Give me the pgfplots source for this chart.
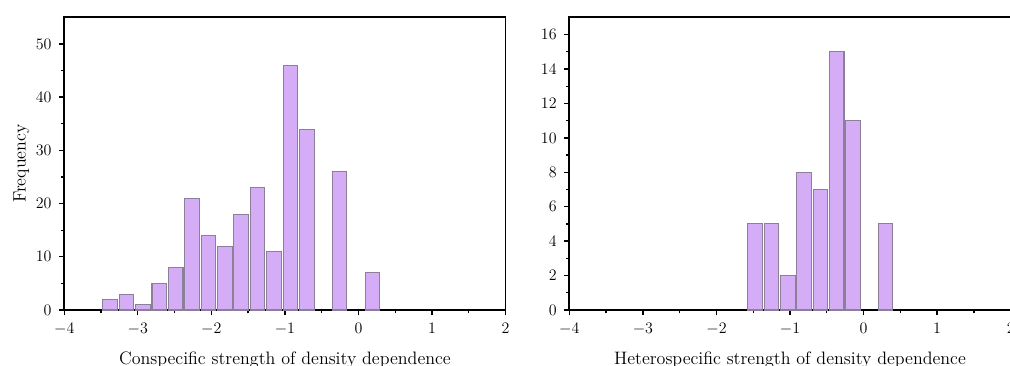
\documentclass[border=0pt]{standalone}
\usepackage{pgfplots}
\pgfplotsset{compat=1.18}
\definecolor{barfill}{RGB}{213,172,246}
\definecolor{baredge}{RGB}{140,128,152}
\pgfplotsset{
  histstyle/.style={
    scale only axis,
    width=331pt, height=219.5pt,
    xmin=-4, xmax=2,
    xtick={-4,-3,-2,-1,0,1,2},
    minor xtick={-3.5,-2.5,-1.5,-0.5,0.5,1.5},
    tick align=outside,
    xtick pos=lower, ytick pos=left,
    major tick length=4pt, minor tick length=2.6pt,
    every tick/.style={black, line width=1pt},
    axis line style={line width=1.3pt},
    tick label style={font=\fontsize{11.5}{13}\selectfont},
    xticklabel style={yshift=-2.5pt},
    yticklabel style={xshift=-2pt},
    label style={font=\fontsize{13.5}{15}\selectfont},
    ybar, bar width=0.198,
    bar shift=0pt,
  },
  histbar/.style={fill=barfill, draw=baredge, line width=0.8pt},
}
\begin{document}
\begin{tikzpicture}
\begin{axis}[histstyle, at={(48.2pt,41.25pt)}, anchor=south west,
  ymin=0, ymax=55,
  ytick={0,10,20,30,40,50},
  minor ytick={5,15,25,35,45},
  xlabel={Conspecific strength of density dependence},
  ylabel={Frequency},
  xlabel style={yshift=-5.5pt},
  ylabel style={yshift=-2pt},
]
\addplot[histbar] coordinates {
(-3.376,2) (-3.153,3) (-2.930,1) (-2.708,5) (-2.485,8) (-2.262,21) (-2.039,14)
(-1.816,12) (-1.594,18) (-1.371,23) (-1.148,11) (-0.925,46) (-0.702,34)
(-0.257,26) (0.189,7)
};
\end{axis}
\begin{axis}[histstyle, at={(427pt,41.25pt)}, anchor=south west,
  ymin=0, ymax=17,
  ytick={0,2,4,6,8,10,12,14,16},
  minor ytick={1,3,5,7,9,11,13,15},
  xlabel={Heterospecific strength of density dependence},
  xlabel style={yshift=-5.5pt},
]
\addplot[histbar] coordinates {
(-1.473,5) (-1.251,5) (-1.030,2) (-0.808,8) (-0.586,7) (-0.365,15) (-0.143,11)
(0.300,5)
};
\end{axis}
\pgfresetboundingbox
\path[use as bounding box] (0,0) rectangle (757.5pt,273.75pt);
\end{tikzpicture}
\end{document}
